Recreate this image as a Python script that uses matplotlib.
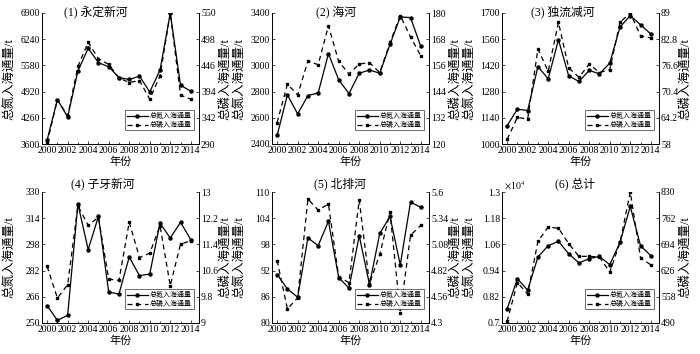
import numpy as np
import matplotlib
matplotlib.use('Agg')
import matplotlib.pyplot as plt
from matplotlib.ticker import FuncFormatter

plt.rcParams['font.family'] = ['Liberation Serif', 'Noto Sans CJK SC']
plt.rcParams['mathtext.fontset'] = 'stix'
plt.rcParams['axes.unicode_minus'] = False

# 年份
years = list(range(2000, 2015))

# 总氮 / 总磷 入海通量 (t)
yongding_N = [3700, 4720, 4280, 5440, 6010, 5650, 5545, 5275, 5225, 5310, 4910, 5460, 6900, 5080, 4930]
yongding_P = [292, 378, 346, 444, 492, 459, 448, 421, 412, 416, 379, 425, 550, 387, 379]

haihe_N = [2465, 2775, 2630, 2770, 2790, 3090, 2890, 2785, 2940, 2965, 2940, 3160, 3370, 3365, 3145]
haihe_P = [129.8, 147.4, 142.5, 158.0, 156.3, 174.2, 157.8, 152.1, 156.6, 157.3, 152.7, 166.5, 178.8, 169.0, 160.4]

duliu_N = [1098, 1186, 1179, 1414, 1348, 1557, 1364, 1334, 1393, 1375, 1432, 1625, 1686, 1637, 1588]
duliu_P = [59.1, 64.3, 63.9, 80.5, 75.2, 86.8, 76.0, 73.8, 76.9, 74.9, 75.6, 86.8, 89.0, 83.6, 83.1]

ziya_N = [260.6, 251.6, 254.7, 322.7, 294.8, 315.1, 268.9, 267.7, 290.3, 278.9, 279.9, 311.0, 301.9, 311.5, 300.9]
ziya_P = [10.73, 9.76, 10.17, 12.58, 11.98, 12.23, 10.34, 10.30, 12.08, 11.00, 11.13, 11.97, 10.14, 11.41, 11.51]

beipai_N = [91.1, 87.8, 85.9, 99.5, 97.7, 103.3, 90.4, 88.0, 100.0, 88.8, 100.5, 104.4, 93.3, 107.7, 106.5]
beipai_P = [4.92, 4.44, 4.55, 5.53, 5.42, 5.48, 4.76, 4.70, 5.52, 4.69, 4.98, 5.40, 4.40, 5.17, 5.27]

total_N = [7640, 9030, 8500, 10020, 10540, 10740, 10170, 9750, 9950, 10050, 9670, 10690, 12340, 10540, 10080]
total_P = [494, 595, 565, 702, 739, 736, 696, 663, 663, 661, 622, 699, 830, 659, 641]

titles = ['(1) 永定新河', '(2) 海河', '(3) 独流减河', '(4) 子牙新河', '(5) 北排河', '(6) 总计']
N_list = [yongding_N, haihe_N, duliu_N, ziya_N, beipai_N, [v / 1e4 for v in total_N]]
P_list = [yongding_P, haihe_P, duliu_P, ziya_P, beipai_P, total_P]
N_lim = [(3600, 6900), (2400, 3400), (1000, 1700), (250, 330), (80, 110), (0.7, 1.3)]
P_lim = [(290, 550), (120, 180), (58, 89), (9, 13), (4.3, 5.6), (490, 830)]
title_x = [0.34, 0.41, 0.39, 0.39, 0.43, 0.465]

fig = plt.figure(figsize=(7, 3.54), dpi=100)

lefts = [42, 272, 502]
bottoms = [144, 323]
W, H = 157, 131

fmt = FuncFormatter(lambda v, p: '%g' % round(v, 4))

for i in range(6):
    r, c = i // 3, i % 3
    ax = fig.add_axes([lefts[c] / 700, 1 - bottoms[r] / 354, W / 700, H / 354])
    ax2 = ax.twinx()

    l1, = ax.plot(years, N_list[i], '-', color='k', lw=0.9, marker='o', ms=2.2)
    l2, = ax2.plot(years, P_list[i], color='k', lw=0.9, ls=(0, (4, 3)), marker='s', ms=1.8)

    ax.set_xlim(1999.5, 2014.8)
    ax.set_ylim(*N_lim[i])
    ax2.set_ylim(*P_lim[i])
    ax.set_yticks(np.linspace(N_lim[i][0], N_lim[i][1], 6))
    ax2.set_yticks(np.linspace(P_lim[i][0], P_lim[i][1], 6))
    ax.yaxis.set_major_formatter(fmt)
    ax2.yaxis.set_major_formatter(fmt)
    ax.set_xticks(range(2000, 2015, 2))
    ax.set_xticks(range(2001, 2015, 2), minor=True)

    for a in (ax, ax2):
        a.spines['top'].set_visible(False)
        for s in a.spines.values():
            s.set_linewidth(0.6)
        a.tick_params(direction='in', length=2.5, width=0.5, labelsize=7, pad=1.5)
        a.tick_params(which='minor', direction='in', length=1.5, width=0.5)

    ax.set_xlabel('年份', fontsize=8, labelpad=1)
    ax.set_ylabel('总氮入海通量/t', fontsize=9)
    ax2.set_ylabel('总磷入海通量/t', fontsize=9, rotation=90)
    ax.yaxis.set_label_coords(-0.165, 0.5)
    ax2.yaxis.set_label_coords(1.13, 0.5)

    ty = 1.01 if r == 0 else 1.06
    ax.text(title_x[i], ty, titles[i], transform=ax.transAxes, ha='center',
            va='center', fontsize=8.5)

    leg = ax2.legend([l1, l2], ['总氮入海通量', '总磷入海通量'], loc='lower right',
                     bbox_to_anchor=(0.99, 0.08), fontsize=5, handlelength=3,
                     fancybox=False, framealpha=1, borderpad=0.3, labelspacing=0.2,
                     handletextpad=0.3)
    leg.get_frame().set_edgecolor('#333333')
    leg.get_frame().set_linewidth(0.5)

    if i == 5:
        ax.text(0.01, 1.0, r'$\times10^4$', transform=ax.transAxes, ha='left',
                va='bottom', fontsize=7)

fig.savefig('out.png', dpi=100)
